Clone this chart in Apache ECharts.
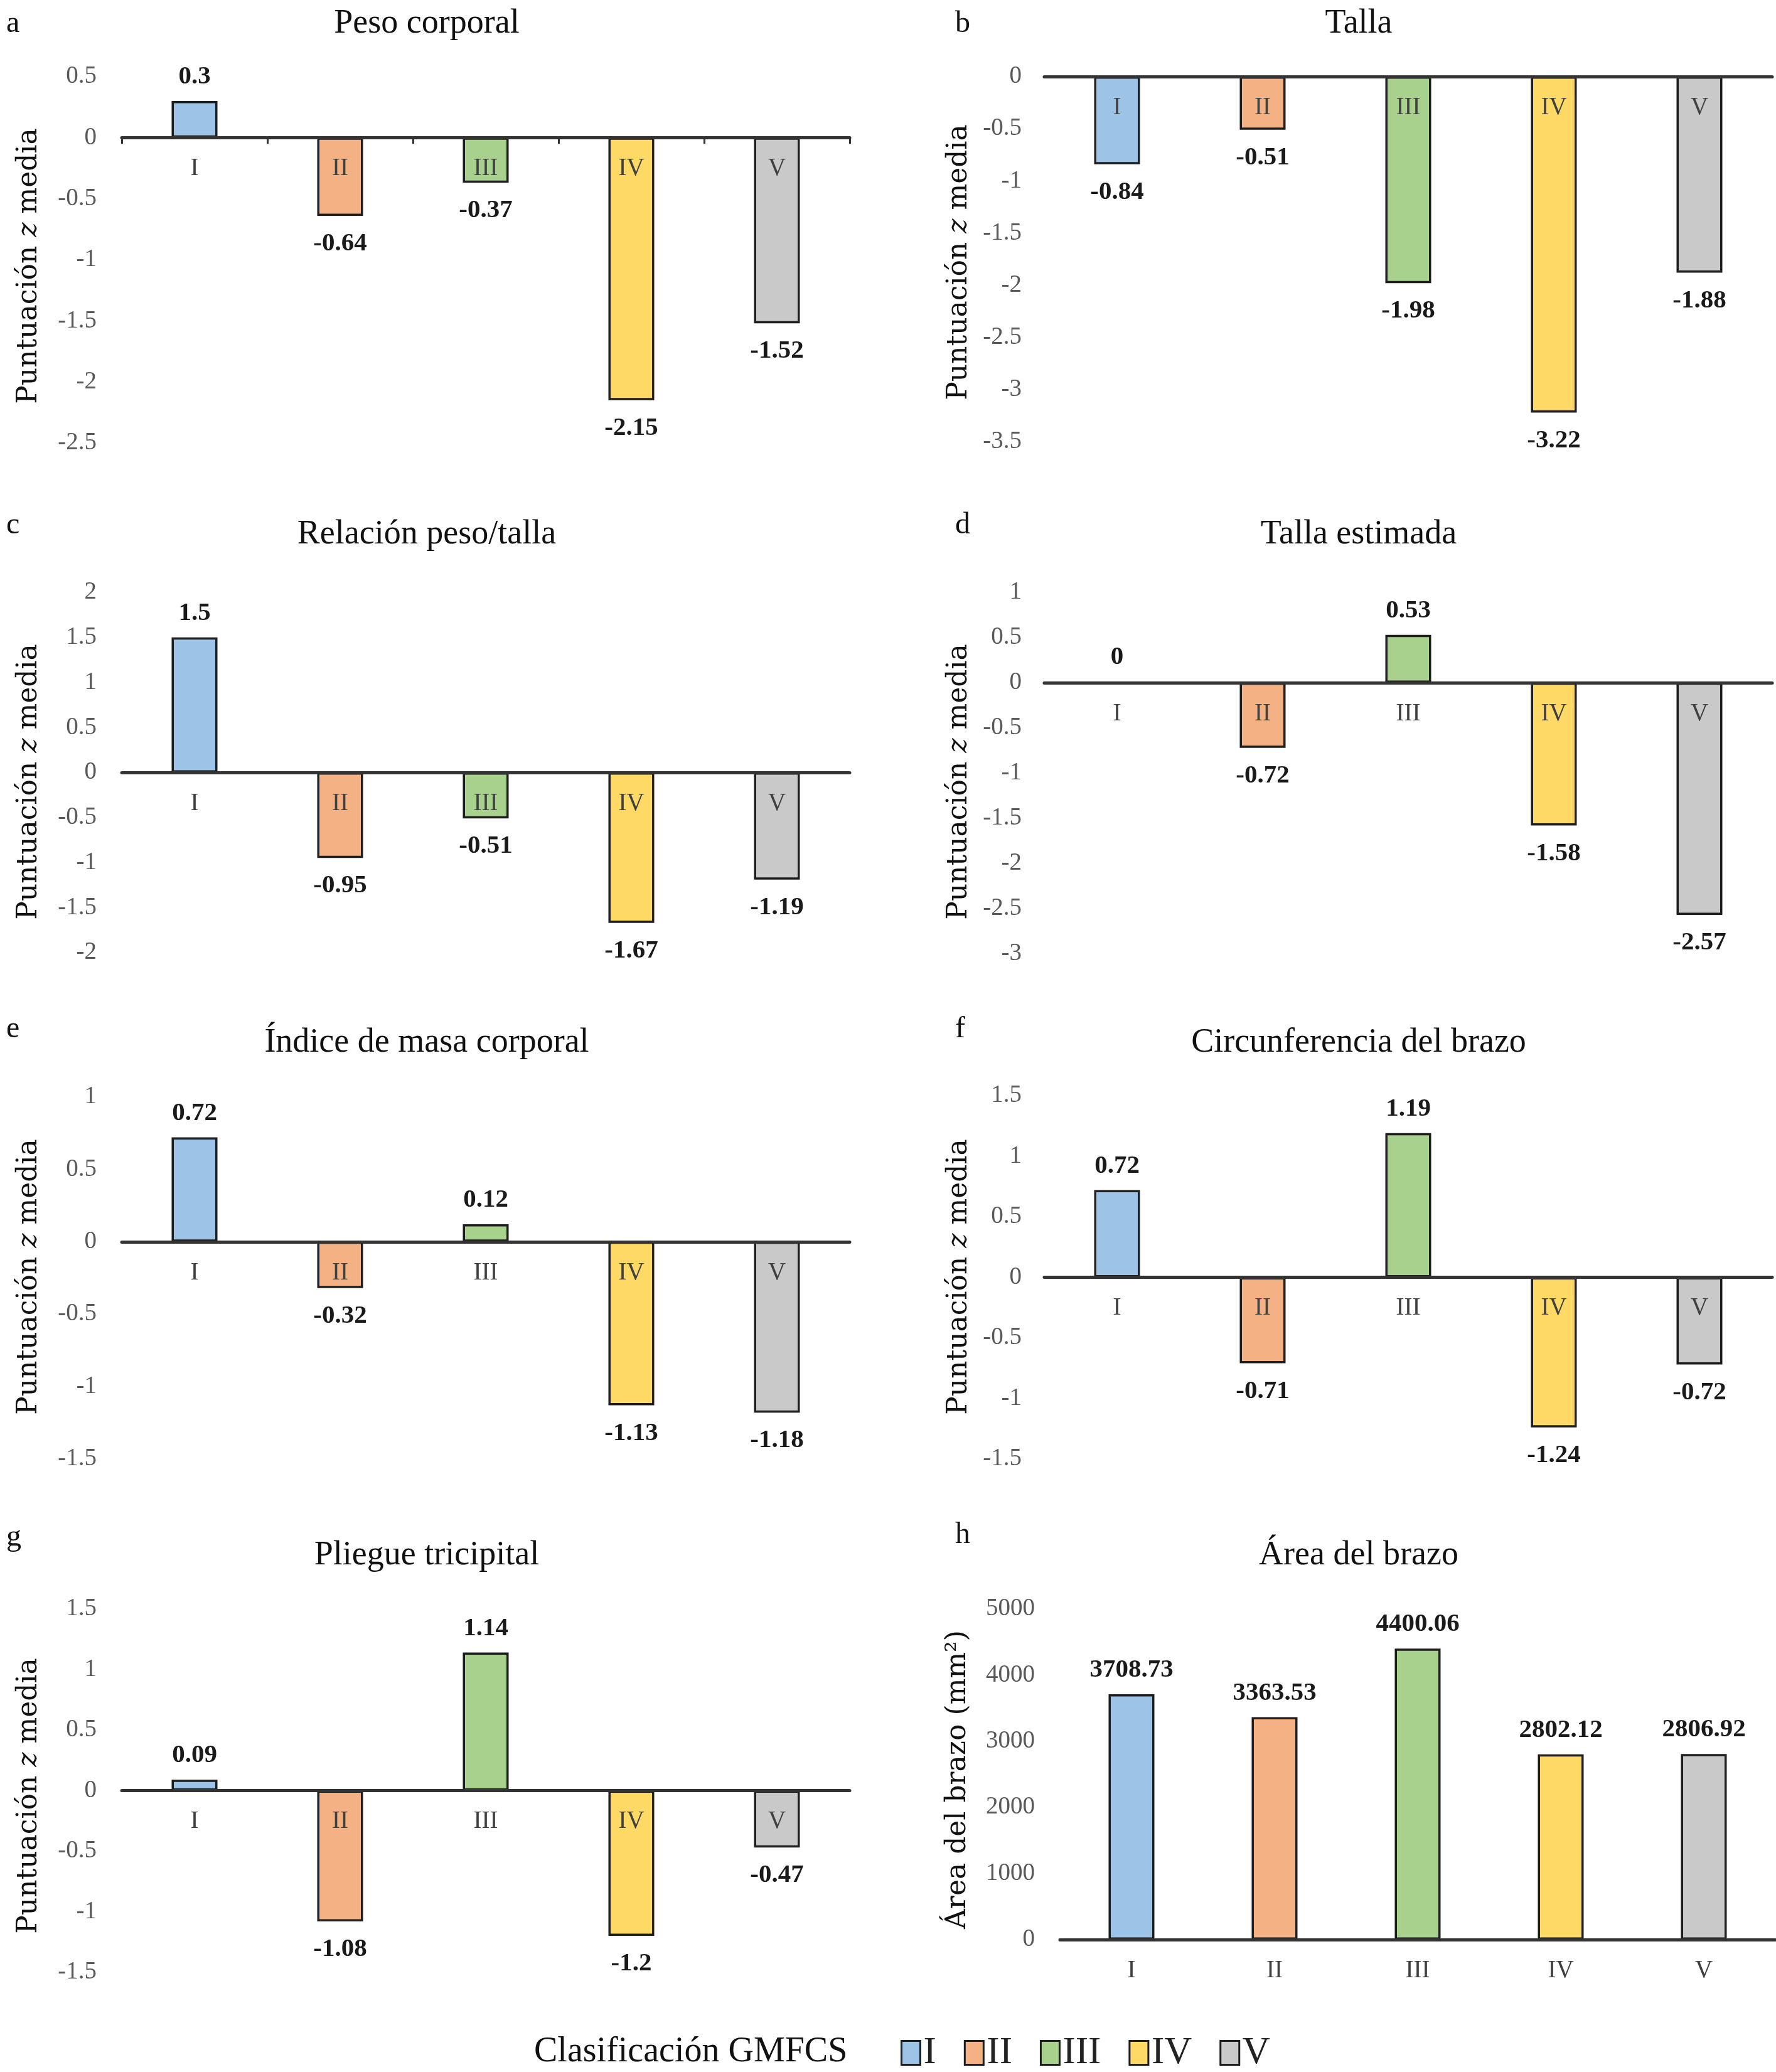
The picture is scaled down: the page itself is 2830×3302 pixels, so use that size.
<!DOCTYPE html>
<html><head><meta charset="utf-8">
<script src="https://cdn.jsdelivr.net/npm/echarts@6/dist/echarts.min.js"></script>
<style>html,body{margin:0;padding:0;background:#fff}#c{width:2830px;height:3302px}</style>
</head><body><div id="c"></div>
<script>
// ---- data ----
const categories = ['I', 'II', 'III', 'IV', 'V'];
const pesoCorporal = [0.3, -0.64, -0.37, -2.15, -1.52];
const talla = [-0.84, -0.51, -1.98, -3.22, -1.88];
const relacionPesoTalla = [1.5, -0.95, -0.51, -1.67, -1.19];
const tallaEstimada = [0, -0.72, 0.53, -1.58, -2.57];
const indiceMasaCorporal = [0.72, -0.32, 0.12, -1.13, -1.18];
const circunferenciaBrazo = [0.72, -0.71, 1.19, -1.24, -0.72];
const pliegueTricipital = [0.09, -1.08, 1.14, -1.2, -0.47];
const areaBrazo = [3708.73, 3363.53, 4400.06, 2802.12, 2806.92];
const panelTitles = ['Peso corporal', 'Talla', 'Relación peso/talla', 'Talla estimada',
  'Índice de masa corporal', 'Circunferencia del brazo', 'Pliegue tricipital', 'Área del brazo'];
const panelLetters = ['a', 'b', 'c', 'd', 'e', 'f', 'g', 'h'];
const yMins = [-2.5, -3.5, -2, -3, -1.5, -1.5, -1.5, 0];
const yMaxs = [0.5, 0, 2, 1, 1, 1.5, 1.5, 5000];
const yIntervals = [0.5, 0.5, 0.5, 0.5, 0.5, 0.5, 0.5, 1000];
const legendTitle = 'Clasificación GMFCS';

// ---- layout / style ----
const series = [pesoCorporal, talla, relacionPesoTalla, tallaEstimada, indiceMasaCorporal, circunferenciaBrazo, pliegueTricipital, areaBrazo];
const colors = ['#9DC3E6', '#F4B183', '#A9D18E', '#FFD966', '#C9C9C9'];
const layout = [
  {left: 194, top: 122, width: 1160, height: 584, ticks: true, nameX: 47, nameY: 424, titleY: 38, letterY: 38},
  {left: 1664, top: 122, width: 1160, height: 582, ticks: false, nameX: 1529, nameY: 418, titleY: 38, letterY: 38},
  {left: 194, top: 944, width: 1160, height: 574, ticks: false, nameX: 47, nameY: 1246, titleY: 852, letterY: 837},
  {left: 1664, top: 944, width: 1160, height: 576, ticks: false, nameX: 1529, nameY: 1246, titleY: 852, letterY: 837},
  {left: 194, top: 1748, width: 1160, height: 577, ticks: false, nameX: 47, nameY: 2035, titleY: 1662, letterY: 1640},
  {left: 1664, top: 1746, width: 1160, height: 579, ticks: false, nameX: 1529, nameY: 2035, titleY: 1662, letterY: 1640},
  {left: 194, top: 2564, width: 1160, height: 579, ticks: false, nameX: 47, nameY: 2862, titleY: 2479, letterY: 2450},
  {left: 1689, top: 2564, width: 1140, height: 527, ticks: false, nameX: 1527, nameY: 2836, titleY: 2479, letterY: 2446}
];
const SERIF = 'Liberation Serif';
const WIDE = 'DejaVu Serif';

const grids = [], xAxes = [], yAxes = [], allSeries = [], graphics = [];
layout.forEach((L, i) => {
  grids.push({left: L.left, top: L.top, width: L.width, height: L.height});
  // place the category axis at the zero value of the y scale
  const zeroOffset = -L.height * (0 - yMins[i]) / (yMaxs[i] - yMins[i]);
  xAxes.push({
    gridIndex: i, type: 'category', data: categories, z: 10, position: 'bottom', offset: zeroOffset,
    axisLine: {onZero: false, lineStyle: {color: '#333', width: 5}},
    axisTick: {show: L.ticks, length: 10, lineStyle: {color: '#333', width: 3}},
    axisLabel: {margin: 30, fontSize: 39, color: '#404040', fontFamily: SERIF},
    splitLine: {show: false}
  });
  yAxes.push({
    gridIndex: i, type: 'value', min: yMins[i], max: yMaxs[i], interval: yIntervals[i],
    axisLine: {show: false, onZero: false}, axisTick: {show: false}, splitLine: {show: false},
    axisLabel: {margin: (L.left > 1600 && i < 7) ? 36 : 40, fontSize: 39, color: '#595959', fontFamily: SERIF,
      formatter: v => String(v)}
  });
  const arr = series[i];
  categories.forEach((c, k) => {
    allSeries.push({
      type: 'bar', name: c, xAxisIndex: i, yAxisIndex: i,
      barWidth: 73, barGap: '-100%',
      itemStyle: {color: colors[k], borderColor: '#1e1e1e', borderWidth: 3.5},
      label: {show: true, fontWeight: 'bold', fontSize: 41, fontFamily: SERIF, color: '#1a1a1a',
        formatter: p => String(p.value)},
      data: categories.map((cc, j) => j === k
        ? {value: arr[j], label: {position: arr[j] < 0 ? 'bottom' : 'top', distance: arr[j] < 0 ? 24 : 18}}
        : '-')
    });
  });
  const cx = L.left > 1000 ? 2165 : 680;
  graphics.push({type: 'text', x: cx, y: L.titleY, style: {text: panelTitles[i], fontSize: 54, fontFamily: SERIF,
    fill: '#111', align: 'center', verticalAlign: 'middle'}});
  graphics.push({type: 'text', x: L.left > 1000 ? 1522 : 10, y: L.letterY, style: {text: panelLetters[i], fontSize: 48,
    fontFamily: SERIF, fill: '#111', align: 'left', verticalAlign: 'middle'}});
  const nameText = i === 7 ? 'Área del brazo (mm²)' : 'Puntuación {i|z} media';
  graphics.push({type: 'text', x: L.nameX, y: L.nameY, rotation: Math.PI / 2,
    style: {text: nameText, fontSize: 44, fontFamily: WIDE, fill: '#111', align: 'center', verticalAlign: 'middle',
      rich: {i: {fontStyle: 'italic', fontSize: 44, fontFamily: WIDE, fill: '#111'}}}});
});
graphics.push({type: 'text', x: 851, y: 3270, style: {text: legendTitle, fontSize: 56, fontFamily: SERIF, fill: '#111',
  align: 'left', verticalAlign: 'middle'}});

const chart = echarts.init(document.getElementById('c'), null, {renderer: 'canvas'});
chart.setOption({
  animation: false,
  backgroundColor: '#fff',
  grid: grids, xAxis: xAxes, yAxis: yAxes, series: allSeries,
  legend: {data: categories, left: 1430, top: 3236, itemWidth: 30, itemHeight: 38, itemGap: 44, icon: 'rect',
    itemStyle: {borderColor: '#1e1e1e', borderWidth: 3},
    textStyle: {fontSize: 61, fontFamily: SERIF, color: '#222'}},
  graphic: graphics
});
</script></body></html>
